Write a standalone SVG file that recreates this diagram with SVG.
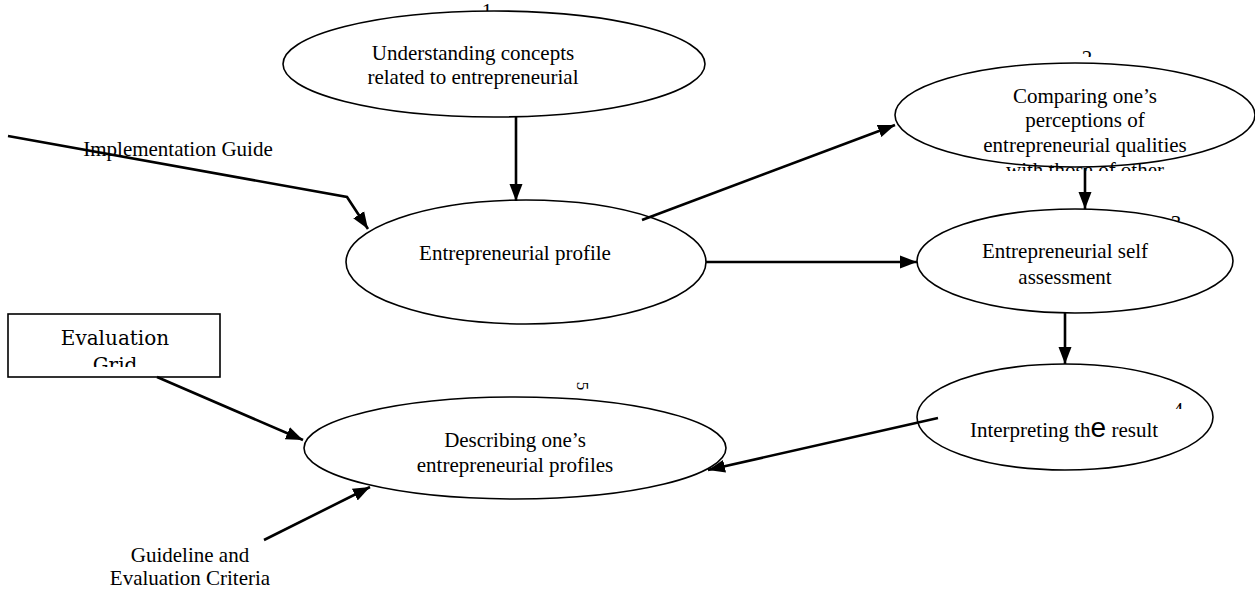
<svg xmlns="http://www.w3.org/2000/svg" width="1255" height="593" viewBox="0 0 1255 593">
<style>
.node{fill:#fff;stroke:#000;stroke-width:1.6}
.t{font-family:"Liberation Serif","Times New Roman",serif;font-size:21px;fill:#000;text-anchor:middle}
.lbl{font-family:"Liberation Serif","Times New Roman",serif;font-size:21px;fill:#000;text-anchor:middle}
.cs{font-family:"DejaVu Serif","Liberation Serif",serif;font-size:20px;fill:#000;text-anchor:middle}
.c{fill:none;stroke:#000;stroke-width:2.6;marker-end:url(#ah)}
</style>
<defs>
<marker id="ah" markerUnits="userSpaceOnUse" markerWidth="18" markerHeight="14" refX="17" refY="7" orient="auto">
<path d="M0,0.5 L17,7 L0,13.5 z" fill="#000"/>
</marker>
<clipPath id="clipE2"><rect x="880" y="60" width="375" height="111"/></clipPath>
<clipPath id="clipBox"><rect x="8" y="314" width="212" height="53"/></clipPath>
<clipPath id="clipL1"><rect x="470" y="0" width="40" height="11"/></clipPath>
<clipPath id="clipL2"><rect x="1070" y="40" width="40" height="17"/></clipPath>
<clipPath id="clipL3"><rect x="1160" y="205" width="40" height="16"/></clipPath>
<clipPath id="clipL4"><rect x="1165" y="395" width="30" height="14"/></clipPath>
<clipPath id="clipL5"><rect x="570" y="378" width="30" height="12"/></clipPath>
</defs>

<g id="node-understanding">
<ellipse class="node" cx="494" cy="64" rx="211" ry="53"/>
<text class="t" x="473" y="60">Understanding concepts</text>
<text class="t" x="473" y="84">related to entrepreneurial</text>
</g>

<g id="node-profile">
<ellipse class="node" cx="526" cy="262" rx="180" ry="62"/>
<text class="t" x="515" y="260">Entrepreneurial profile</text>
</g>

<g id="node-comparing">
<ellipse class="node" cx="1075" cy="115" rx="180" ry="52"/>
<g clip-path="url(#clipE2)">
<text class="t" x="1085" y="103">Comparing one’s</text>
<text class="t" x="1085" y="127">perceptions of</text>
<text class="t" x="1085" y="152">entrepreneurial qualities</text>
<text class="t" x="1085" y="177">with those of other</text>
</g>
</g>

<g id="node-self-assessment">
<ellipse class="node" cx="1075" cy="261" rx="158" ry="52"/>
<text class="t" x="1065" y="258">Entrepreneurial self</text>
<text class="t" x="1065" y="284">assessment</text>
</g>

<g id="node-interpreting">
<ellipse class="node" cx="1065" cy="417" rx="148" ry="53"/>
<text class="t" x="1064" y="437">Interpreting th<tspan style="font-family:'Liberation Sans',Arial,sans-serif;font-size:28px">e</tspan> result</text>
</g>

<g id="node-describing">
<ellipse class="node" cx="515" cy="448" rx="211" ry="51"/>
<text class="t" x="515" y="447">Describing one’s</text>
<text class="t" x="515" y="472">entrepreneurial profiles</text>
</g>

<g id="node-evaluation-grid">
<rect x="8" y="314" width="212" height="63" fill="#fff" stroke="#000" stroke-width="1.6"/>
<g clip-path="url(#clipBox)">
<text class="cs" x="115" y="345">Evaluation</text>
<text class="cs" x="115" y="372">Grid</text>
</g>
</g>

<g id="node-implementation-guide">
<text class="t" x="178" y="156">Implementation Guide</text>
</g>

<g id="node-guideline">
<text class="t" x="190" y="562">Guideline and</text>
<text class="t" x="190" y="585">Evaluation Criteria</text>
</g>

<g id="step-labels">
<text class="lbl" x="487" y="18" clip-path="url(#clipL1)">1</text>
<text class="lbl" x="1087" y="65" clip-path="url(#clipL2)">2</text>
<text class="lbl" x="1176" y="230" clip-path="url(#clipL3)">3</text>
<text class="lbl" x="1178" y="417" clip-path="url(#clipL4)">4</text>
<g clip-path="url(#clipL5)"><text class="lbl" transform="translate(583,386) rotate(90)" x="0" y="6" style="font-size:17px">5</text></g>
</g>

<g id="connectors">
<line class="c" x1="516" y1="117" x2="516" y2="201"/>
<polyline class="c" points="8,136 347,197 368,229"/>
<line class="c" x1="642" y1="220" x2="895" y2="125"/>
<line class="c" x1="706" y1="262" x2="917" y2="262"/>
<line class="c" x1="1085" y1="168" x2="1085" y2="209"/>
<line class="c" x1="1065" y1="313" x2="1065" y2="364"/>
<line class="c" x1="938" y1="418" x2="708" y2="470"/>
<line class="c" x1="157" y1="377" x2="303" y2="440"/>
<line class="c" x1="264" y1="540" x2="370" y2="487"/>
</g>
</svg>
